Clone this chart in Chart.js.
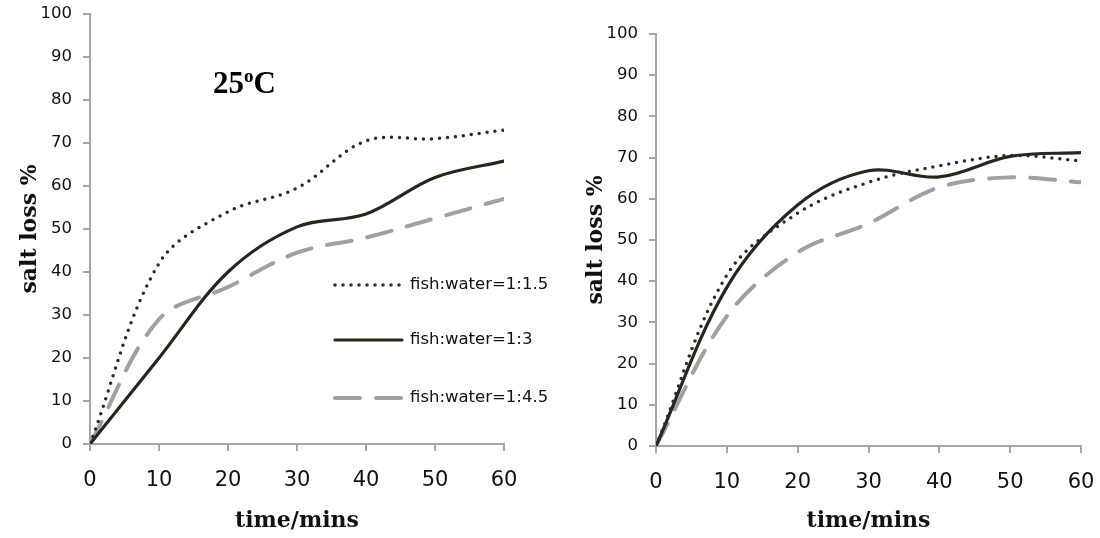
<!DOCTYPE html>
<html>
<head>
<meta charset="utf-8">
<title>salt loss</title>
<script src="https://cdn.jsdelivr.net/npm/chart.js@4/dist/chart.umd.min.js"></script>
<style>
  html, body { margin: 0; padding: 0; background: #fff; }
  .panel { position: absolute; top: 0; width: 550px; height: 538px; }
</style>
</head>
<body>
<div class="panel" style="left:0"><canvas id="chart25"></canvas></div>
<div class="panel" style="left:550px"><canvas id="chartRight"></canvas></div>
<script>
// sampling times (mins) and axis ticks
const times = [0, 10, 20, 30, 40, 50, 60];
const xTicks = [0, 10, 20, 30, 40, 50, 60];
const yTicks = [0, 10, 20, 30, 40, 50, 60, 70, 80, 90, 100];

const seriesNames = ['fish:water=1:1.5', 'fish:water=1:3', 'fish:water=1:4.5'];

// salt loss % at 25 C
const loss25_15 = [0, 42, 54, 59.5, 70.5, 71, 73];
const loss25_3  = [0, 20, 40, 50.5, 53.5, 62, 65.8];
const loss25_45 = [0, 29, 36.5, 44.5, 48, 52.5, 57];

// salt loss % , second run
const lossB_15 = [0, 41.5, 56.5, 64, 68, 70.5, 69.2];
const lossB_3  = [0, 38.5, 58.5, 66.8, 65.3, 70.3, 71.2];
const lossB_45 = [0, 31.5, 47, 54, 62.8, 65.2, 64];

const axisGray = '#a6a6a6';
const lineStyles = [
  { color: '#2b2b2b', width: 3.5, dash: [0, 8] },
  { color: '#29251a', width: 3.2, dash: [] },
  { color: '#a0a0a0', width: 4, dash: [25, 16] }
];

function buildDatasets(sets) {
  return sets.map((vals, i) => ({
    label: seriesNames[i],
    data: times.map((t, k) => ({ x: t, y: vals[k] })),
    borderColor: lineStyles[i].color,
    borderWidth: lineStyles[i].width,
    borderDash: lineStyles[i].dash,
    borderCapStyle: 'round',
    fill: false
  }));
}

// legend drawn inside the plot, short line sample + text
const lineKey = {
  id: 'lineKey',
  afterDraw(chart, args, opts) {
    if (!opts.show) return;
    const { ctx, chartArea } = chart;
    const x0 = chartArea.right - 171, x1 = x0 + 69;
    chart.data.datasets.forEach((ds, i) => {
      const y = chartArea.top + opts.rows[i];
      ctx.save();
      ctx.strokeStyle = ds.borderColor;
      ctx.lineWidth = ds.borderWidth;
      ctx.lineCap = 'round';
      ctx.setLineDash(ds.borderDash);
      ctx.beginPath();
      ctx.moveTo(x0 + 2, y);
      ctx.lineTo(x1, y);
      ctx.stroke();
      ctx.setLineDash([]);
      ctx.fillStyle = '#111';
      ctx.font = '16.5px "DejaVu Sans"';
      ctx.textBaseline = 'middle';
      ctx.fillText(ds.label, x1 + 8, y);
      ctx.restore();
    });
  }
};

// temperature label with superscript o
const tempLabel = {
  id: 'tempLabel',
  afterDraw(chart, args, opts) {
    if (!opts.show) return;
    const { ctx, chartArea } = chart;
    let x = chartArea.left + 123;
    const y = chartArea.top + 79;
    ctx.save();
    ctx.fillStyle = '#000';
    ctx.textBaseline = 'alphabetic';
    ctx.font = 'bold 31px "Liberation Serif"';
    ctx.fillText('25', x, y);
    x += ctx.measureText('25').width;
    ctx.font = 'bold 19px "Liberation Serif"';
    ctx.fillText('o', x, y - 11);
    x += ctx.measureText('o').width;
    ctx.font = 'bold 31px "Liberation Serif"';
    ctx.fillText('C', x, y);
    ctx.restore();
  }
};

function makeChart(id, sets, layout) {
  const ctx = document.getElementById(id).getContext('2d');
  return new Chart(ctx, {
    type: 'line',
    data: { datasets: buildDatasets(sets) },
    plugins: [lineKey, tempLabel],
    options: {
      responsive: true,
      maintainAspectRatio: false,
      animation: false,
      layout: { padding: { top: layout.top, right: layout.right, bottom: 0, left: 0 } },
      elements: { point: { radius: 0 }, line: { tension: 0.35 } },
      plugins: {
        legend: { display: false },
        tooltip: { enabled: false },
        lineKey: { show: layout.key, rows: [271, 326, 384] },
        tempLabel: { show: layout.key }
      },
      scales: {
        x: {
          type: 'linear', min: 0, max: 60,
          afterBuildTicks: s => { s.ticks = xTicks.map(v => ({ value: v })); },
          afterFit: s => { s.height = layout.xh; s.paddingLeft = 0; s.paddingRight = 0; },
          grid: { drawOnChartArea: false, tickLength: 7, color: axisGray, lineWidth: 2 },
          border: { color: axisGray, width: 2 },
          ticks: { color: '#111', font: { family: 'DejaVu Sans', size: 21 }, padding: 17, maxRotation: 0 },
          title: {
            display: true, text: 'time/mins', color: '#111',
            font: { family: 'DejaVu Serif', size: 22, weight: 'bold' },
            padding: { top: 0, bottom: 4 }
          }
        },
        y: {
          min: 0, max: 100,
          afterBuildTicks: s => { s.ticks = yTicks.map(v => ({ value: v })); },
          afterFit: s => { s.width = layout.yw; s.paddingTop = 0; s.paddingBottom = 0; },
          grid: { drawOnChartArea: false, tickLength: 7, color: axisGray, lineWidth: 2 },
          border: { color: axisGray, width: 2 },
          ticks: { color: '#111', font: { family: 'DejaVu Sans', size: 16.5 }, padding: 11 },
          title: {
            display: true, text: 'salt loss %', color: '#111',
            font: { family: 'DejaVu Serif', size: 22, weight: 'bold' },
            padding: { top: layout.titlePad, bottom: 0 }
          }
        }
      }
    }
  });
}

makeChart('chart25', [loss25_15, loss25_3, loss25_45],
  { top: 14, right: 46, xh: 94, yw: 90, titlePad: 17, key: true });
makeChart('chartRight', [lossB_15, lossB_3, lossB_45],
  { top: 34, right: 19, xh: 92, yw: 106, titlePad: 33, key: false });
</script>
</body>
</html>
